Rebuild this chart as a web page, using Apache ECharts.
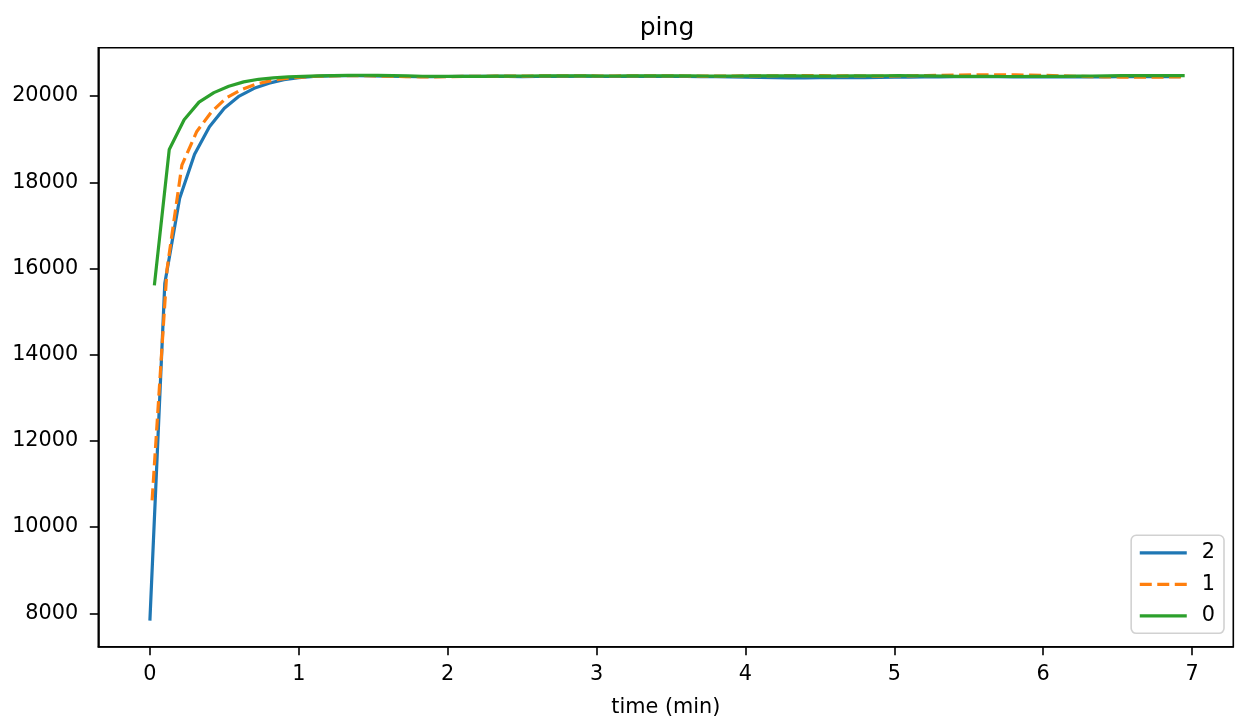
<!DOCTYPE html>
<html>
<head>
<meta charset="utf-8">
<script src="https://cdn.jsdelivr.net/npm/echarts@6/dist/echarts.min.js"></script>
<style>
html,body{margin:0;padding:0;background:#fff;}
#chart{width:1243px;height:725px;}
</style>
</head>
<body>
<div id="chart"></div>
<script>
const titleText = 'ping';
const xAxisName = 'time (min)';
const xTicks = [0, 1, 2, 3, 4, 5, 6, 7];
const yTicks = [8000, 10000, 12000, 14000, 16000, 18000, 20000];
const seriesNames = ['2', '1', '0'];

const time2 = [0.00,0.10,0.20,0.30,0.40,0.50,0.60,0.70,0.80,0.90,1.00,1.10,1.20,1.30,1.40,1.50,1.60,1.70,1.80,1.90,
  2.00,2.10,2.20,2.30,2.40,2.50,2.60,2.70,2.80,2.90,3.00,3.10,3.20,3.30,3.40,3.50,3.60,3.70,3.80,3.90,
  4.00,4.10,4.20,4.30,4.40,4.50,4.60,4.70,4.80,4.90,5.00,5.10,5.20,5.30,5.40,5.50,5.60,5.70,5.80,5.90,
  6.00,6.10,6.20,6.30,6.40,6.50,6.60,6.70,6.80,6.92];
const value2 = [7830,15650,17630,18650,19290,19720,20000,20180,20300,20380,20430,20455,20468,20474,20474,20470,20462,20455,20450,20452,
  20455,20458,20460,20460,20456,20452,20455,20458,20460,20462,20460,20458,20456,20458,20460,20458,20455,20452,20450,20448,
  20440,20432,20428,20425,20425,20428,20430,20428,20430,20435,20440,20442,20445,20448,20450,20450,20452,20450,20448,20446,
  20445,20444,20444,20446,20448,20450,20452,20450,20450,20452];

const time1 = [0.015,0.115,0.215,0.315,0.415,0.515,0.615,0.715,0.815,0.915,1.015,1.115,1.215,1.315,1.415,1.515,1.615,1.715,1.815,1.915,
  2.015,2.115,2.215,2.315,2.415,2.515,2.615,2.715,2.815,2.915,3.015,3.115,3.215,3.315,3.415,3.515,3.615,3.715,3.815,3.915,
  4.015,4.115,4.215,4.315,4.415,4.515,4.615,4.715,4.815,4.915,5.015,5.115,5.215,5.315,5.415,5.515,5.615,5.715,5.815,5.915,
  6.015,6.115,6.215,6.315,6.415,6.515,6.615,6.715,6.815,6.925];
const value1 = [10620,15980,18400,19180,19640,19960,20150,20280,20360,20410,20440,20460,20470,20475,20474,20468,20460,20452,20448,20448,
  20452,20456,20460,20462,20462,20465,20468,20470,20470,20468,20466,20466,20468,20470,20470,20468,20466,20465,20465,20466,
  20468,20470,20472,20474,20475,20474,20470,20468,20466,20465,20466,20470,20476,20482,20488,20492,20494,20494,20492,20488,
  20480,20470,20460,20452,20446,20442,20440,20440,20442,20445];

const time0 = [0.03,0.13,0.23,0.33,0.43,0.53,0.63,0.73,0.83,0.93,1.03,1.13,1.23,1.33,1.43,1.53,1.63,1.73,1.83,1.93,
  2.03,2.13,2.23,2.33,2.43,2.53,2.63,2.73,2.83,2.93,3.03,3.13,3.23,3.33,3.43,3.53,3.63,3.73,3.83,3.93,
  4.03,4.13,4.23,4.33,4.43,4.53,4.63,4.73,4.83,4.93,5.03,5.13,5.23,5.33,5.43,5.53,5.63,5.73,5.83,5.93,
  6.03,6.13,6.23,6.33,6.43,6.53,6.63,6.73,6.83,6.95];
const value0 = [15610,18760,19450,19860,20080,20230,20330,20390,20425,20445,20458,20468,20476,20482,20484,20482,20476,20468,20460,20456,
  20456,20458,20460,20462,20464,20466,20468,20470,20470,20468,20466,20466,20468,20470,20470,20470,20468,20466,20465,20466,
  20468,20470,20470,20468,20466,20465,20466,20468,20470,20472,20474,20472,20468,20464,20460,20458,20456,20455,20455,20456,
  20458,20460,20462,20466,20470,20474,20476,20476,20476,20476];

function pairs(t, v) { return t.map((x, i) => [x, v[i]]); }

const colors = ['#1f77b4', '#ff7f0e', '#2ca02c'];
const font = 'DejaVu Sans';
const fs = 20.8;

const chart = echarts.init(document.getElementById('chart'), null, {renderer: 'canvas'});
chart.setOption({
  animation: false,
  backgroundColor: '#ffffff',
  title: {
    text: titleText,
    left: 662,
    top: 11,
    textAlign: 'center',
    textStyle: {fontFamily: font, fontSize: 25, fontWeight: 'normal', color: '#000'}
  },
  grid: {
    left: 98.3, right: 9.7, top: 47.7, bottom: 78.3,
    show: true, borderColor: '#000', borderWidth: 1.6, backgroundColor: 'transparent'
  },
  legend: {
    orient: 'vertical',
    right: 19,
    bottom: 91.7,
    data: seriesNames,
    itemWidth: 47,
    itemHeight: 14,
    itemGap: 10.5,
    padding: [7, 9, 7, 7],
    borderColor: 'rgba(204,204,204,0.9)',
    borderWidth: 1.6,
    borderRadius: 5,
    backgroundColor: '#fff',
    itemStyle: {opacity: 0},
    lineStyle: {width: 3.2},
    textStyle: {fontFamily: font, fontSize: fs, color: '#000', padding: [0, 0, 0, 10]}
  },
  xAxis: {
    type: 'value',
    min: -0.3465,
    max: 7.2765,
    name: xAxisName,
    nameLocation: 'middle',
    nameGap: 50,
    nameTextStyle: {fontFamily: font, fontSize: fs, color: '#000'},
    axisLine: {show: true, onZero: false, lineStyle: {color: '#000', width: 1.6}},
    axisTick: {show: true, length: 8.5, lineStyle: {color: '#000', width: 1.6}, customValues: xTicks},
    axisLabel: {fontFamily: font, fontSize: fs, color: '#000', margin: 17, customValues: xTicks, formatter: v => String(v)},
    splitLine: {show: false}
  },
  yAxis: {
    type: 'value',
    min: 7225,
    max: 21123,
    axisLine: {show: true, onZero: false, lineStyle: {color: '#000', width: 1.6}},
    axisTick: {show: true, length: 8.5, lineStyle: {color: '#000', width: 1.6}, customValues: yTicks},
    axisLabel: {fontFamily: font, fontSize: fs, color: '#000', margin: 20, customValues: yTicks, formatter: v => String(v)},
    splitLine: {show: false}
  },
  series: [
    {name: seriesNames[0], type: 'line', data: pairs(time2, value2), showSymbol: false, symbol: 'none',
     color: colors[0], lineStyle: {color: colors[0], width: 3.2, cap: 'butt', join: 'round'}},
    {name: seriesNames[1], type: 'line', data: pairs(time1, value1), showSymbol: false, symbol: 'none',
     color: colors[1], lineStyle: {color: colors[1], width: 3.2, type: [12, 5.5], cap: 'butt', join: 'round'}},
    {name: seriesNames[2], type: 'line', data: pairs(time0, value0), showSymbol: false, symbol: 'none',
     color: colors[2], lineStyle: {color: colors[2], width: 3.2, cap: 'butt', join: 'round'}}
  ]
});
</script>
</body>
</html>
